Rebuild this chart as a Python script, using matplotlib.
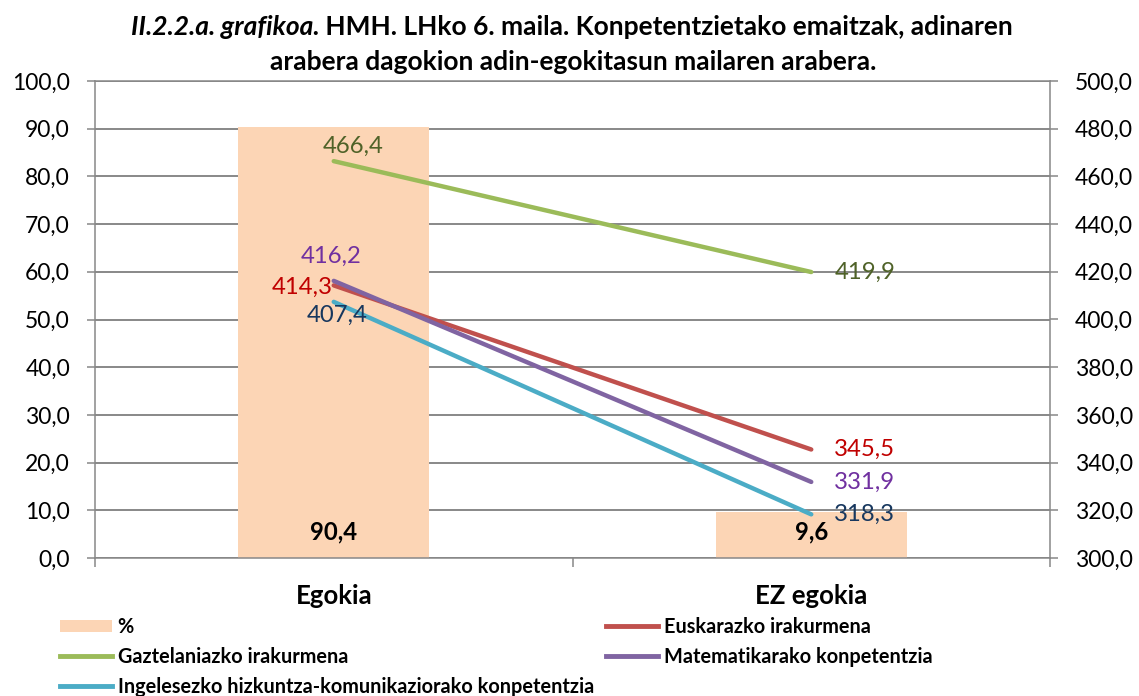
import matplotlib
matplotlib.use("Agg")
import matplotlib.pyplot as plt
import numpy as np
from matplotlib.lines import Line2D
from matplotlib.patches import Patch

# ---------------- data ----------------
categories = ["Egokia", "EZ egokia"]
pct = [90.4, 9.6]
euskara = [414.3, 345.5]
gaztelania = [466.4, 419.9]
matematika = [416.2, 331.9]
ingelesa = [407.4, 318.3]
bar_name = "%"
line_names = ["Euskarazko irakurmena", "Gaztelaniazko irakurmena",
              "Matematikarako konpetentzia",
              "Ingelesezko hizkuntza-komunikaziorako konpetentzia"]
left_ticks = [0, 10, 20, 30, 40, 50, 60, 70, 80, 90, 100]
right_ticks = [300, 320, 340, 360, 380, 400, 420, 440, 460, 480, 500]
title_italic = "II.2.2.a. grafikoa."
title_rest1 = " HMH. LHko 6. maila. Konpetentzietako emaitzak, adinaren"
title_line2 = "arabera dagokion adin-egokitasun mailaren arabera."

# ---------------- style ----------------
plt.rcParams['font.family'] = ['Lato', 'DejaVu Sans']
BAR = "#FCD5B5"
GRID = "#888888"
C_EUS, C_GAZ, C_MAT, C_ING = "#C0504D", "#9BBB59", "#8064A2", "#4BACC6"
L_EUS, L_GAZ, L_MAT, L_ING = "#C00000", "#4F6228", "#7030A0", "#17375E"
FS = 16.5
DFS = 17.2

W, H = 1139, 696
fig = plt.figure(figsize=(W / 100, H / 100), dpi=100)


def fx(px):
    return px / W


def fy(py):
    return 1 - py / H


def fmt(v):
    return f"{v:.1f}".replace(".", ",")


ax = fig.add_axes([fx(95), fy(558), fx(1050) - fx(95), fy(81) - fy(558)])
x = np.arange(len(categories))
ax.bar(x, pct, width=0.4, color=BAR, zorder=2)
ax.set_xlim(-0.5, 1.5)
ax.set_ylim(0, 100)
ax.set_yticks(left_ticks)
ax.set_yticklabels([fmt(v) for v in left_ticks])
ax.yaxis.grid(True, color=GRID, lw=1.4)
ax.set_axisbelow(True)
ax.set_xticks([-0.5, 0.5, 1.5])
ax.set_xticklabels([])
ax.set_xticks(x, minor=True)
ax.set_xticklabels(categories, minor=True, fontweight='bold', fontsize=18.5)
ax.tick_params(axis='x', which='minor', length=0, pad=19)
ax.tick_params(axis='x', which='major', length=6.5, width=1.1, color=GRID)
ax.tick_params(axis='y', length=6, width=1.1, color=GRID, pad=12, labelsize=FS)
for s in ax.spines.values():
    s.set_color(GRID)
    s.set_linewidth(1.1)
ax.spines['right'].set_visible(False)

for xi, v in zip(x, pct):
    ax.annotate(fmt(v), (xi, 0), xytext=(0, 19), textcoords='offset points',
                ha='center', va='center', fontsize=DFS, fontweight='bold', color='black')

ax2 = ax.twinx()
ax2.set_ylim(300, 500)
ax2.set_yticks(right_ticks)
ax2.set_yticklabels([fmt(v) for v in right_ticks])
ax2.tick_params(axis='y', length=6, width=1.1, color=GRID, pad=12, labelsize=FS)
for k, s in ax2.spines.items():
    s.set_visible(k == 'right')
    s.set_color(GRID)
    s.set_linewidth(1.1)

series = [(euskara, C_EUS, L_EUS), (gaztelania, C_GAZ, L_GAZ),
          (matematika, C_MAT, L_MAT), (ingelesa, C_ING, L_ING)]
for vals, c, _ in series:
    ax2.plot(x, vals, color=c, lw=3.2, solid_capstyle='round', zorder=3)

# data label offsets in pixels (dx, dy down positive), alignment
px2pt = 0.72
left_pos = {0: ((-1, 2), 'right'), 1: ((19, -15), 'center'),
            2: ((-3, -25), 'center'), 3: ((3, 13), 'center')}
for i, (vals, c, lc) in enumerate(series):
    (dx, dy), ha = left_pos[i]
    ax2.annotate(fmt(vals[0]), (x[0], vals[0]), xytext=(dx * px2pt, -dy * px2pt),
                 textcoords='offset points', ha=ha, va='center', fontsize=DFS, color=lc)
    ax2.annotate(fmt(vals[1]), (x[1], vals[1]), xytext=(23 * px2pt, 0),
                 textcoords='offset points', ha='left', va='center', fontsize=DFS, color=lc)

# ---------------- legend ----------------
leg_fs = 14.3
h_pct = Patch(facecolor=BAR, edgecolor='none')
h = {n: Line2D([], [], color=c, lw=3.5) for n, c in zip(line_names, [C_EUS, C_GAZ, C_MAT, C_ING])}
common = dict(frameon=False, prop={'weight': 'bold', 'size': leg_fs},
              handlelength=2.6, handletextpad=0.3, labelspacing=0.5,
              borderpad=0, borderaxespad=0, loc='upper left', handleheight=0.6)
fig.legend([h_pct, h[line_names[1]], h[line_names[3]]],
           [bar_name, line_names[1], line_names[3]],
           bbox_to_anchor=(fx(60), fy(617)), **common)
fig.legend([h[line_names[0]], h[line_names[2]]],
           [line_names[0], line_names[2]],
           bbox_to_anchor=(fx(606), fy(617)), **common)

# ---------------- title ----------------
r = fig.canvas.get_renderer()
t_it = fig.text(0, fy(27), title_italic, fontsize=16, fontweight='bold',
                style='italic', ha='left', va='center')
t_r1 = fig.text(0, fy(27), title_rest1, fontsize=16, fontweight='bold',
                ha='left', va='center')
t_2 = fig.text(fx(573), fy(62), title_line2, fontsize=16, fontweight='bold',
               ha='center', va='center')
w1 = t_it.get_window_extent(r).width + t_r1.get_window_extent(r).width
scale1 = 885 / w1
w2 = t_2.get_window_extent(r).width
scale2 = 610 / w2
s = (scale1 + scale2) / 2 * 16
for t in (t_it, t_r1, t_2):
    t.set_fontsize(s)
wi = t_it.get_window_extent(r).width
wr = t_r1.get_window_extent(r).width
x0 = 572 - (wi + wr) / 2
t_it.set_x(fx(x0))
t_r1.set_x(fx(x0 + wi))

fig.savefig("out.png", dpi=100)
